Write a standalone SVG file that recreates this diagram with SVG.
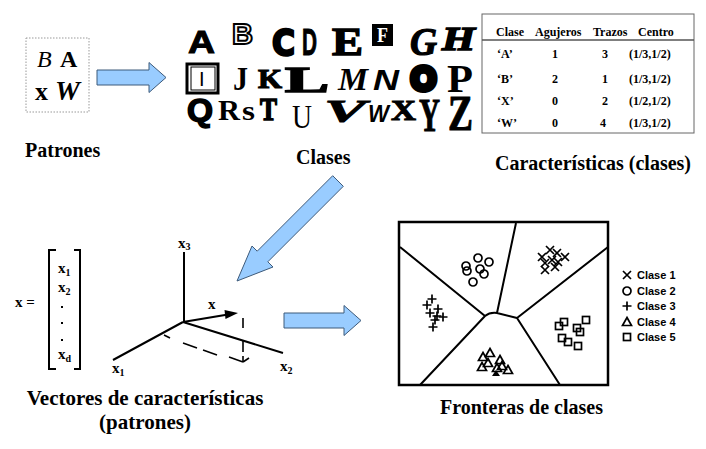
<svg xmlns="http://www.w3.org/2000/svg" width="706" height="449" viewBox="0 0 706 449">
<style>
.t{font-family:"Liberation Serif","Times New Roman",serif;font-weight:bold;fill:#000}
.cap{font-size:20px}
.tb{font-size:12px}
.arrow{fill:#99ccff;stroke:#3d5a7a;stroke-width:1}
.sans{font-family:"Liberation Sans",Arial,sans-serif;font-weight:bold}
.ser{font-family:"Liberation Serif","Times New Roman",serif;font-weight:bold}
.dj{font-family:"DejaVu Sans",sans-serif;font-weight:bold}
.ax{stroke:#000;stroke-width:2;fill:none}
.ds{stroke:#000;stroke-width:1.6}
.bd{stroke:#000;stroke-width:2;fill:none}
.mk{stroke:#000;stroke-width:1.7;fill:none}
.lg{font-family:"Liberation Sans",Arial,sans-serif;font-weight:bold;font-size:11px}
.vx{font-family:"Liberation Serif","Times New Roman",serif;font-weight:bold;font-size:15px}
.vs{font-size:10px}
</style>
<defs>
<path id="mx" d="M-4,-4L4,4M-4,4L4,-4"/>
<circle id="mo" r="4"/>
<path id="mp" d="M-4.5,0H4.5M0,-4.5V4.5"/>
<path id="mt" d="M0,-4.5L4.5,3.5H-4.5Z"/>
<rect id="ms" x="-3.5" y="-3.5" width="7" height="7"/>
</defs>
<rect width="706" height="449" fill="#fff"/>

<g id="patrones">
<rect x="26" y="38" width="63" height="74" fill="#fff" stroke="#999" stroke-width="1" stroke-dasharray="1.5 1.5"/>
<text x="37" y="67" style="font-family:'Liberation Serif',serif;font-style:italic;font-size:24px">B</text>
<text x="60" y="67" class="ser" style="font-size:24px">A</text>
<text x="35" y="100" class="ser" style="font-size:26px">x</text>
<text x="55" y="100" class="ser" style="font-style:italic;font-size:28px">W</text>
<text x="25" y="157" class="t cap">Patrones</text>
</g>

<g id="clases">
<text x="188" y="53" class="sans" style="font-size:32px" textLength="27" lengthAdjust="spacingAndGlyphs" stroke="#000" stroke-width="1">A</text>
<text x="232" y="44" class="sans" style="font-size:29px" textLength="21" lengthAdjust="spacingAndGlyphs" fill="#fff" stroke="#000" stroke-width="2">B</text>
<text x="272" y="55" class="dj" style="font-size:36px" textLength="23" lengthAdjust="spacingAndGlyphs" stroke="#000" stroke-width="2.5">C</text>
<text x="302" y="55" class="sans" style="font-size:36px" textLength="15" lengthAdjust="spacingAndGlyphs" stroke="#000" stroke-width="1">D</text>
<text x="332" y="55" class="ser" style="font-size:41px" textLength="31" lengthAdjust="spacingAndGlyphs" stroke="#000" stroke-width="1.5">E</text>
<rect x="372" y="24" width="21" height="22" fill="#000"/>
<text x="377" y="42" class="ser" style="font-size:21px;fill:#fff" textLength="11" lengthAdjust="spacingAndGlyphs">F</text>
<text x="410" y="55" class="ser" style="font-size:39px;font-style:italic" textLength="27" lengthAdjust="spacingAndGlyphs" stroke="#000" stroke-width="1.2">G</text>
<text x="442" y="50" class="ser" style="font-size:33px;font-style:italic" textLength="33" lengthAdjust="spacingAndGlyphs" stroke="#000" stroke-width="1.5">H</text>

<rect x="187" y="64" width="31" height="29" fill="none" stroke="#000" stroke-width="3"/>
<rect x="191" y="67" width="24" height="23" fill="none" stroke="#000" stroke-width="1"/>
<text x="199" y="86" class="sans" style="font-size:20px;font-weight:normal">I</text>
<text x="233" y="90" class="ser" style="font-size:33px" textLength="15" lengthAdjust="spacingAndGlyphs">J</text>
<text x="258" y="88" class="ser" style="font-size:27px" textLength="24" lengthAdjust="spacingAndGlyphs" stroke="#000" stroke-width="1.2">K</text>
<text x="285" y="92" class="ser" style="font-size:35px" textLength="44" lengthAdjust="spacingAndGlyphs" stroke="#000" stroke-width="1.5">L</text>
<text x="338" y="90" class="ser" style="font-size:32px;font-style:italic" textLength="30" lengthAdjust="spacingAndGlyphs">M</text>
<text x="373" y="90" class="sans" style="font-size:30px;font-style:italic" textLength="26" lengthAdjust="spacingAndGlyphs">N</text>
<text x="411" y="90" class="sans" style="font-size:33px" textLength="25" lengthAdjust="spacingAndGlyphs" stroke="#000" stroke-width="6">O</text>
<text x="447" y="92" class="ser" style="font-size:39px" textLength="26" lengthAdjust="spacingAndGlyphs">P</text>

<text x="187" y="121" class="sans" style="font-size:31px" textLength="26" lengthAdjust="spacingAndGlyphs" stroke="#000" stroke-width="1.5">Q</text>
<text x="218" y="120" class="ser" style="font-size:29px" textLength="22" lengthAdjust="spacingAndGlyphs">R</text>
<text x="242" y="120" class="ser" style="font-size:27px" textLength="13" lengthAdjust="spacingAndGlyphs">s</text>
<text x="260" y="120" class="ser" style="font-size:32px" textLength="17" lengthAdjust="spacingAndGlyphs" stroke="#000" stroke-width="1.5">T</text>
<text x="292" y="128" class="ser" style="font-size:33px;font-weight:normal" textLength="20" lengthAdjust="spacingAndGlyphs">U</text>
<text x="324" y="122" class="ser" style="font-size:32px;font-style:italic" textLength="42" lengthAdjust="spacingAndGlyphs" stroke="#000" stroke-width="0.8">V</text>
<text x="368" y="122" class="sans" style="font-size:23px;font-style:italic" textLength="21" lengthAdjust="spacingAndGlyphs">W</text>
<text x="391" y="120" class="ser" style="font-size:29px" textLength="25" lengthAdjust="spacingAndGlyphs" stroke="#000" stroke-width="1">X</text>
<text x="419" y="131" class="ser" style="font-size:46px" textLength="21" lengthAdjust="spacingAndGlyphs" stroke="#000" stroke-width="1">Y</text>
<text x="448" y="130" class="ser" style="font-size:50px" textLength="25" lengthAdjust="spacingAndGlyphs" stroke="#000" stroke-width="1">Z</text>
<text x="296" y="164" class="t cap">Clases</text>
</g>

<g id="tabla">
<rect x="482" y="14" width="212" height="119" fill="#fff" stroke="#666" stroke-width="1"/>
<line x1="482" y1="40" x2="694" y2="40" stroke="#555" stroke-width="1.5"/>
<g class="t tb">
<text x="496" y="36">Clase</text>
<text x="535" y="36">Agujeros</text>
<text x="593" y="36">Trazos</text>
<text x="638" y="36">Centro</text>
<text x="497" y="58">‘A’</text><text x="552" y="58">1</text><text x="602" y="58">3</text><text x="629" y="58">(1/3,1/2)</text>
<text x="497" y="83">‘B’</text><text x="552" y="83">2</text><text x="602" y="83">1</text><text x="629" y="83">(1/3,1/2)</text>
<text x="497" y="105">‘X’</text><text x="552" y="105">0</text><text x="602" y="105">2</text><text x="629" y="105">(1/2,1/2)</text>
<text x="497" y="127">‘W’</text><text x="552" y="127">0</text><text x="600" y="127">4</text><text x="629" y="127">(1/3,1/2)</text>
</g>
<text x="495" y="170" class="t cap">Características (clases)</text>
</g>

<g id="vectores">
<text x="15" y="307" class="vx">x =</text>
<path d="M56,250H49V369H56M74,250H80V369H74" fill="none" stroke="#000" stroke-width="2"/>
<text x="58" y="273" class="vx">x<tspan class="vs" dy="3">1</tspan></text>
<text x="58" y="292" class="vx">x<tspan class="vs" dy="3">2</tspan></text>
<rect x="61" y="306" width="2" height="2"/>
<rect x="61" y="322" width="2" height="2"/>
<rect x="61" y="339" width="2" height="2"/>
<text x="58" y="359" class="vx">x<tspan class="vs" dy="3">d</tspan></text>
<path d="M184,252V322M183,322L113,360M183,322L283,353" class="ax"/>
<path d="M183,322L228,314.5" class="ax"/>
<path d="M238,313L225.5,319L224.5,310Z" fill="#000"/>
<g class="ds">
<line x1="243" y1="318" x2="243" y2="328"/>
<line x1="243" y1="340" x2="243" y2="352"/>
<line x1="243" y1="356" x2="243" y2="362"/>
<line x1="164" y1="335" x2="170" y2="338"/>
<line x1="183" y1="343" x2="197" y2="348"/>
<line x1="203" y1="350" x2="217" y2="355"/>
<line x1="229" y1="357" x2="243" y2="362"/>
<line x1="243" y1="362" x2="249" y2="358"/>
</g>
<text x="178" y="248" class="vx">x<tspan class="vs" dy="2">3</tspan></text>
<text x="208" y="309" class="vx">x</text>
<text x="112" y="373" class="vx">x<tspan class="vs" dy="3">1</tspan></text>
<text x="280" y="371" class="vx">x<tspan class="vs" dy="3">2</tspan></text>
<text x="145" y="405" class="t" style="font-size:21px" text-anchor="middle">Vectores de características</text>
<text x="145" y="429" class="t" style="font-size:21px" text-anchor="middle">(patrones)</text>
</g>

<g id="fronteras">
<rect x="399" y="222" width="209" height="163" fill="#fff" stroke="#000" stroke-width="2.5"/>
<path d="M400,247L485,316M516,223L497,313M485,316Q490,312 497,313L517,318M517,318L608,247M485,316L420,385M517,318L560,385" class="bd"/>
<g class="mk">
<use href="#mx" x="542" y="257"/><use href="#mx" x="550" y="250"/><use href="#mx" x="557" y="253"/><use href="#mx" x="565" y="257"/><use href="#mx" x="545" y="263"/><use href="#mx" x="552" y="260"/><use href="#mx" x="558" y="262"/><use href="#mx" x="545" y="270"/><use href="#mx" x="555" y="267"/>
<use href="#mo" x="466" y="266"/><use href="#mo" x="467" y="271"/><use href="#mo" x="478" y="258"/><use href="#mo" x="489" y="262"/><use href="#mo" x="480" y="269"/><use href="#mo" x="484" y="274"/><use href="#mo" x="473" y="282"/>
<use href="#mp" x="432" y="299"/><use href="#mp" x="427" y="305"/><use href="#mp" x="438" y="309"/><use href="#mp" x="430" y="313"/><use href="#mp" x="437" y="316"/><use href="#mp" x="443" y="317"/><use href="#mp" x="433" y="327"/><use href="#mp" x="435" y="320"/>
<use href="#mt" x="483" y="357"/><use href="#mt" x="490" y="353"/><use href="#mt" x="500" y="360"/><use href="#mt" x="482" y="367"/><use href="#mt" x="488" y="363"/><use href="#mt" x="497" y="368"/><use href="#mt" x="508" y="370"/><use href="#mt" x="502" y="366"/>
<use href="#ms" x="559" y="326"/><use href="#ms" x="564" y="322"/><use href="#ms" x="577" y="328"/><use href="#ms" x="580" y="332"/><use href="#ms" x="586" y="320"/><use href="#ms" x="562" y="338"/><use href="#ms" x="568" y="342"/><use href="#ms" x="578" y="346"/>
</g>
<path d="M492,376L496,370L500,376Z" fill="#000"/>
<g class="mk">
<use href="#mx" x="627" y="275"/>
<use href="#mo" x="627" y="291"/>
<use href="#mp" x="627" y="306"/>
<use href="#mt" x="627" y="322"/>
<use href="#ms" x="627" y="337"/>
</g>
<g class="lg">
<text x="637" y="279">Clase 1</text>
<text x="637" y="295">Clase 2</text>
<text x="637" y="310">Clase 3</text>
<text x="637" y="326">Clase 4</text>
<text x="637" y="341">Clase 5</text>
</g>
<text x="440" y="414" class="t cap">Fronteras de clases</text>
</g>

<g id="connectors">
<path class="arrow" d="M97,70H149V62.5L166,77.5L149,92.5V85H97Z"/>
<path class="arrow" d="M332.7,175.7L343.3,186.3L267.8,261.8L273,267L237,281L252,246L257.2,251.2Z"/>
<path class="arrow" d="M284,313H344V305.5L361,320.5L344,335.5V328H284Z"/>
</g>
</svg>
